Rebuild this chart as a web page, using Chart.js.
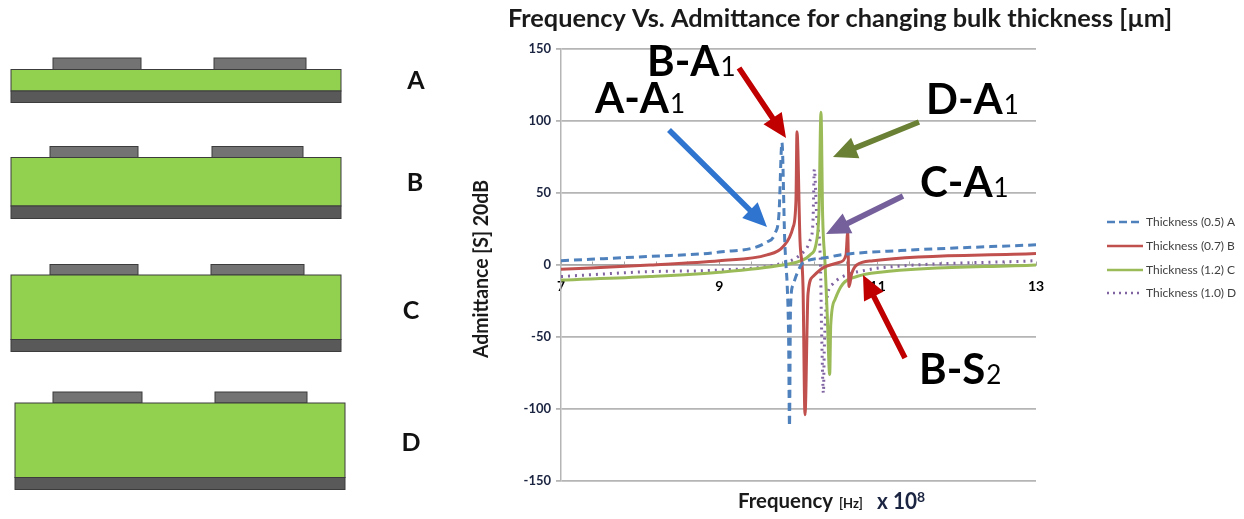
<!DOCTYPE html>
<html><head><meta charset="utf-8">
<style>html,body{margin:0;padding:0;background:#fff;overflow:hidden}canvas{display:block;filter:blur(0.4px)}</style>
<script src="https://cdn.jsdelivr.net/npm/chart.js@4"></script>
</head><body><canvas id="c" width="1244" height="519"></canvas>
<script>
const freqA=[7,8.124,9,9.602,9.703,9.754,9.791,9.826,9.842,9.858,9.875,9.886,9.899,9.93,9.981,10.057,10.335,10.524,11.282,13];
const admitA=[3,6,9,16,22,36,85,17,0,-15,-50,-112,-30,-14,-6,1.5,5,7,10,14];
const freqB=[7,8.124,9,9.602,9.804,9.93,9.968,9.981,10.019,10.057,10.082,10.12,10.183,10.309,10.524,10.6,10.621,10.638,10.672,10.735,10.941,13];
const admitB=[-3,0,3,7,12.7,26,45,92.6,17,-15,-104,-20,-8,-2,2,7,22.5,-15,-6,0,3,8];
const freqC=[7,8.124,9,9.804,10.006,10.145,10.23,10.259,10.284,10.305,10.335,10.364,10.394,10.407,10.461,10.562,10.735,11.029,13];
const admitC=[-10.5,-8,-5,0,2.5,7,17,38,106,34,1.5,-36,-76,-42,-24,-13,-8,-5,0];
const freqD=[7,8.124,9,9.804,10.019,10.145,10.183,10.2,10.23,10.278,10.29,10.315,10.325,10.358,10.436,10.6,10.815,11.03,13];
const admitD=[-8,-4.6,-3.5,1.4,7,17,30,66.5,34,-1,-40,-89,-60,-24,-13,-7,-4,-2,3];
const seriesLabels=['Thickness (0.5) A','Thickness (0.7) B','Thickness (1.2) C','Thickness (1.0) D'];
const xTicks=[7,7.4,7.8,8.2,8.6,9,9.4,9.8,10.2,10.6,11,11.4,11.8,12.2,12.6,13];
const xLabelled=[7,9,11,13];
const yTicks=[-150,-100,-50,0,50,100,150];
const FONT='Lato, "Open Sans", sans-serif';
const pts=(xs,ys)=>xs.map((x,i)=>({x,y:ys[i]}));
const styles=[
 {c:'#4f81bd',dash:[8,5],w:3},
 {c:'#c0504d',dash:[],w:3},
 {c:'#9bbb59',dash:[],w:3},
 {c:'#8064a2',dash:[2,5],w:3}];
const sets=[[freqA,admitA],[freqB,admitB],[freqC,admitC],[freqD,admitD]];

const stacks=[
 {x:11,el1:[53,141],el2:[214,306],top:58,g:69.5,m:91,b:102.5,lab:'A',lx:416,ly:81},
 {x:11,el1:[50,138],el2:[212,303],top:146.5,g:157.5,m:206,b:218.5,lab:'B',lx:415,ly:183},
 {x:11,el1:[50,138],el2:[211,304],top:264.5,g:275,m:339.5,b:351.5,lab:'C',lx:411,ly:311},
 {x:15,el1:[53,142],el2:[215,307],top:392,g:403,m:477.5,b:489.5,lab:'D',lx:411,ly:443}];
const arrows=[
 {f:[669,130],t:[767,227],c:'#2f75d0'},
 {f:[739,68],t:[786,138],c:'#c00000'},
 {f:[919,122],t:[833,157],c:'#6a8034'},
 {f:[903,196],t:[826,234],c:'#76609c'},
 {f:[905,358],t:[863,275],c:'#c00000'}];
const callouts=[
 {m:'B-A',s:'1',x:647,y:76},
 {m:'A-A',s:'1',x:595,y:113},
 {m:'D-A',s:'1',x:926,y:114},
 {m:'C-A',s:'1',x:920,y:197},
 {m:'B-S',s:'2',x:919,y:384}];

const art={id:'art',afterDraw(ch){
 const g=ch.ctx;g.save();
 stacks.forEach(s=>{
  const w=330;g.lineWidth=1;g.strokeStyle='#3c3c3c';
  [s.el1,s.el2].forEach(e=>{g.fillStyle='#737373';g.fillRect(e[0],s.top,e[1]-e[0],s.g-s.top);g.strokeRect(e[0],s.top,e[1]-e[0],s.g-s.top);});
  g.fillStyle='#92d050';g.fillRect(s.x,s.g,w,s.m-s.g);g.strokeRect(s.x,s.g,w,s.m-s.g);
  g.fillStyle='#595959';g.fillRect(s.x,s.m,w,s.b-s.m);g.strokeRect(s.x,s.m,w,s.b-s.m);
  g.fillStyle='#111';g.font='bold 25px '+FONT;g.textAlign='center';g.textBaseline='middle';
  g.fillText(s.lab,s.lx,s.ly);
 });
 g.fillStyle='#1a1a1a';g.textAlign='left';g.textBaseline='alphabetic';
 g.font='bold 25.3px '+FONT;g.fillText('Frequency Vs. Admittance for changing bulk thickness [µm]',508,27,665);
 g.font='bold 21px '+FONT;g.fillText('Frequency',738,508,95);
 g.font='bold 13px '+FONT;g.fillText('[Hz]',839,508,27);
 g.fillStyle='#1b2440';
 g.font='bold 22px '+FONT;g.fillText('x 10',877,509,40);
 g.font='bold 14px '+FONT;g.fillText('8',917,502);
 g.fillStyle='#1a1a1a';
 g.save();g.translate(488,269);g.rotate(-Math.PI/2);g.textAlign='center';
 g.font='bold 21px '+FONT;g.fillText('Admittance [S] 20dB',0,0,178);g.restore();
 seriesLabels.forEach((t,i)=>{
  const y=[222,246,270,293][i],st=styles[i];
  g.beginPath();g.strokeStyle=st.c;g.lineWidth=2.5;g.setLineDash(i===3?[2,4]:i===0?[8,4]:[]);
  g.moveTo(1107,y);g.lineTo(1143,y);g.stroke();g.setLineDash([]);
  g.fillStyle='#404040';g.font='12px '+FONT;g.textAlign='left';g.textBaseline='middle';
  g.fillText(t,1146,y,92);
 });
 arrows.forEach(a=>{
  const dx=a.t[0]-a.f[0],dy=a.t[1]-a.f[1],L=Math.hypot(dx,dy),ux=dx/L,uy=dy/L,nx=-uy,ny=ux,hl=24,hw=11,sw=2.8;
  const bx=a.t[0]-ux*hl,by=a.t[1]-uy*hl;
  g.fillStyle=a.c;g.beginPath();
  g.moveTo(a.f[0]+nx*sw,a.f[1]+ny*sw);g.lineTo(bx+nx*sw,by+ny*sw);g.lineTo(bx+nx*hw,by+ny*hw);
  g.lineTo(a.t[0],a.t[1]);g.lineTo(bx-nx*hw,by-ny*hw);g.lineTo(bx-nx*sw,by-ny*sw);g.lineTo(a.f[0]-nx*sw,a.f[1]-ny*sw);
  g.closePath();g.fill();
 });
 g.fillStyle='#000';g.textAlign='left';g.textBaseline='alphabetic';
 callouts.forEach(c=>{
  g.font='bold 42px '+FONT;const w=g.measureText(c.m).width;
  g.fillText(c.m,c.x,c.y);
  g.font='26px '+FONT;g.fillText(c.s,c.x+w+1,c.y);
 });
 g.restore();
}};

new Chart(document.getElementById('c'),{
 type:'line',
 data:{datasets:sets.map((s,i)=>({label:seriesLabels[i],data:pts(s[0],s[1]),borderColor:styles[i].c,borderDash:styles[i].dash,borderWidth:styles[i].w,pointRadius:0,fill:false,cubicInterpolationMode:'monotone'}))},
 plugins:[art],
 options:{responsive:false,animation:false,
  layout:{padding:{left:500,right:208,top:49,bottom:38}},
  plugins:{legend:{display:false},title:{display:false},tooltip:{enabled:false}},
  scales:{
   x:{type:'linear',min:7,max:13,position:{y:0},
    afterBuildTicks(s){s.ticks=xTicks.map(v=>({value:v}));},
    grid:{drawOnChartArea:false,drawTicks:true,tickLength:-4,color:'#a6a6a6',lineWidth:1},
    border:{color:'#a6a6a6',width:1.5},
    ticks:{autoSkip:false,maxRotation:0,padding:17,color:'#000',font:{family:FONT,weight:'bold',size:14},callback:v=>xLabelled.includes(v)?String(v):''}},
   y:{min:-150,max:150,
    afterBuildTicks(s){s.ticks=yTicks.map(v=>({value:v}));},
    afterFit(s){s.width=61;},
    grid:{color:'#b5b5b5',lineWidth:1.8,tickLength:5},
    border:{color:'#b5b5b5',width:1.5},
    ticks:{padding:5,color:'#1b2440',font:{family:FONT,weight:'bold',size:13}}}
  }}
});
</script></body></html>
